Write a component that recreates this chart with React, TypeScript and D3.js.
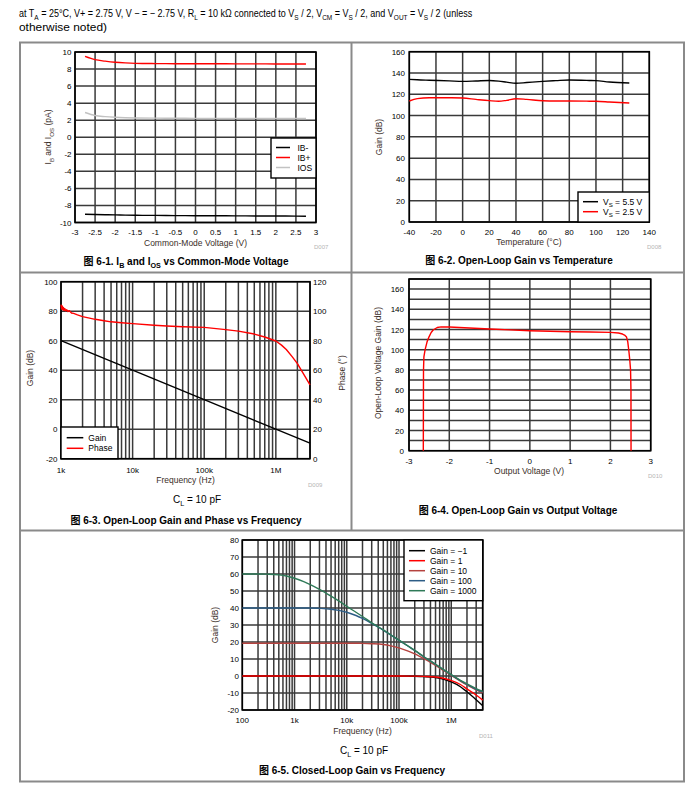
import React, { useLayoutEffect, useRef, useState } from 'react';
import * as d3 from 'd3';

const FONT = "'Liberation Sans', Arial, Helvetica, sans-serif";
const CJK = "'Noto Sans CJK SC', sans-serif";
const GRID = '#3a3a3a';
const TITLE = '#3a2e28';
const BORDER = '#8a8a8a';

// ---------- 6-1 : IB and IOS vs common-mode voltage ----------
const p1Vcm = [-2.75, -2.5, -2.25, -2, -1.75, -1.5, -1, -0.5, 0, 0.5, 1, 1.5, 2, 2.5, 2.75];
const p1IBminus = [-9.03, -9.06, -9.09, -9.11, -9.13, -9.15, -9.17, -9.19, -9.2, -9.21, -9.22, -9.23, -9.24, -9.25, -9.26];
const p1IBplus = [9.48, 9.1, 8.93, 8.8, 8.72, 8.67, 8.64, 8.63, 8.62, 8.62, 8.61, 8.61, 8.6, 8.6, 8.6];
const p1IOS = [2.9, 2.55, 2.42, 2.34, 2.29, 2.26, 2.24, 2.23, 2.22, 2.22, 2.21, 2.21, 2.2, 2.2, 2.2];
const p1XTicks = [-3, -2.5, -2, -1.5, -1, -0.5, 0, 0.5, 1, 1.5, 2, 2.5, 3];
const p1YTicks = [-10, -8, -6, -4, -2, 0, 2, 4, 6, 8, 10];

// ---------- 6-2 : open-loop gain vs temperature ----------
const p2Temp = [-40, -34, -25, -10, 0, 10, 20, 27, 33, 40, 48, 60, 70, 80, 95, 100, 110, 125];
const p2Vs55 = [134, 133.6, 133.2, 132.6, 132.1, 132.5, 133, 132.4, 131.4, 130.3, 131, 132.1, 132.8, 133.4, 133, 132.8, 131.5, 130.6];
const p2Vs25 = [113.7, 115.9, 116.8, 116.7, 116.5, 115.2, 114, 113.4, 114.3, 115.8, 115.2, 113.9, 113.7, 113.7, 113.5, 113.4, 112.8, 111.8];
const p2XTicks = [-40, -20, 0, 20, 40, 60, 80, 100, 120, 140];
const p2YTicks = [0, 20, 40, 60, 80, 100, 120, 140, 160];

// ---------- 6-3 : open-loop gain and phase vs frequency ----------
const p3GainF = [1e3, 1e4, 1e5, 1e6, 3e6];
const p3Gain = [60, 40, 20, 0, -9.5];
const p3PhaseF = [1000, 1020, 1040, 1060, 1080, 1100, 1130, 1160, 1200, 1250, 1300, 1400, 1500, 1700, 2000, 2500, 3000, 4000, 5000, 7000, 10000, 20000, 30000, 50000, 100000, 200000, 300000, 500000, 700000, 1000000, 1200000, 1400000, 1700000, 2000000, 2400000, 3000000];
const p3Phase = [104.5, 101.5, 103.5, 101, 102.5, 100.5, 101.8, 100.2, 101, 99.8, 100.4, 98.8, 98.5, 97.5, 96.3, 95.3, 94.5, 93.5, 92.8, 92.2, 91.6, 90.5, 90, 89.5, 89, 87.5, 86.5, 84.5, 82.5, 79.8, 77, 74, 69, 64.5, 58, 50];
const p3XLabelV = [1e3, 1e4, 1e5, 1e6];
const p3XLabels = ['1k', '10k', '100k', '1M'];
const p3YTicks = [-20, 0, 20, 40, 60, 80, 100];
const p3Y2Ticks = [0, 20, 40, 60, 80, 100, 120];

// ---------- 6-4 : open-loop gain vs output voltage ----------
const p4Vout = [-2.645, -2.64, -2.63, -2.6, -2.55, -2.5, -2.45, -2.4, -2.3, -2.2, -2, -1.5, -1, -0.5, 0, 0.5, 1, 1.5, 2, 2.2, 2.3, 2.35, 2.4, 2.43, 2.46, 2.48, 2.5, 2.51, 2.512];
const p4Gain = [0, 80, 93, 100, 108, 113, 117, 119.5, 122, 122.6, 122.5, 121.5, 120.5, 119.6, 118.8, 118.3, 117.8, 117.5, 117.2, 116.5, 115.5, 114.5, 112.5, 108, 98, 90, 80, 60, 0];
const p4XTicks = [-3, -2, -1, 0, 1, 2, 3];
const p4YTicks = [0, 20, 40, 60, 80, 100, 120, 140, 160];

// ---------- 6-5 : closed-loop gain vs frequency ----------
const p5F = [100, 200, 300, 500, 700, 1e3, 1.5e3, 2e3, 3e3, 5e3, 7e3, 1e4, 1.5e4, 2e4, 3e4, 5e4, 7e4, 1e5, 1.5e5, 2e5, 3e5, 5e5, 7e5, 1e6, 1.5e6, 2e6, 3e6, 4e6];
const p5GainM1 = [0, 0, 0, 0, 0, 0, 0, 0, 0, 0, 0, 0, 0, 0, 0, 0, 0, -0.05, -0.1, -0.15, -0.35, -0.9, -1.8, -3.5, -6.3, -9.3, -14, -17.5];
const p5Gain1 = [0, 0, 0, 0, 0, 0, 0, 0, 0, 0, 0, 0, 0, 0, 0, 0, 0, 0, -0.05, -0.1, -0.25, -0.6, -1.3, -2.7, -5, -7.6, -11.2, -14.2];
const p5Gain10 = [19.3, 19.3, 19.3, 19.3, 19.3, 19.3, 19.3, 19.3, 19.3, 19.3, 19.3, 19.3, 19.25, 19.2, 19.0, 18.5, 17.7, 16.5, 14.6, 13, 10.2, 6.2, 3.4, 0.4, -3, -5.3, -8.2, -10];
const p5Gain100 = [40, 40, 40, 40, 40, 40, 40, 40, 39.8, 39.3, 38.6, 37.5, 35.6, 33.9, 31, 27, 24, 21, 17.5, 15, 11.2, 6.8, 3.8, 0.7, -2.8, -5, -7.8, -9.4];
const p5Gain1000 = [60, 60, 59.9, 59.5, 58.8, 57.5, 55.5, 53.8, 51, 47, 44.2, 41, 37.5, 35, 31.3, 27.1, 24.1, 21.1, 17.6, 15.1, 11.3, 6.9, 3.9, 0.8, -2.6, -4.7, -7.4, -9];
const p5XLabelV = [100, 1e3, 1e4, 1e5, 1e6];
const p5XLabels = ['100', '1k', '10k', '100k', '1M'];
const p5YTicks = [-20, -10, 0, 10, 20, 30, 40, 50, 60, 70, 80];

const P5COLORS = ['#000000', '#ff0000', '#b5433f', '#2d5d86', '#2f7a58'];
const P5NAMES = ['Gain = \u22121', 'Gain = 1', 'Gain = 10', 'Gain = 100', 'Gain = 1000'];

type Part = string | [string];
function Rich({ parts, sub = 0.72 }: { parts: Part[]; sub?: number }) {
  let off = 0;
  const out: React.ReactNode[] = [];
  parts.forEach((p, i) => {
    if (typeof p === 'string') {
      out.push(<tspan key={i} dy={-off}>{p}</tspan>);
      off = 0;
    } else {
      const d = 2.6;
      out.push(<tspan key={i} dy={d - off} fontSize={`${sub}em`}>{p[0]}</tspan>);
      off = d;
    }
  });
  if (off) out.push(<tspan key="z" dy={-off}>{'\u200b'}</tspan>);
  return <>{out}</>;
}

// text scaled horizontally to fill a target width (header lines)
function FitText({ x, y, width, fontSize, children }: { x: number; y: number; width: number; fontSize: number; children: React.ReactNode }) {
  const ref = useRef<SVGTextElement>(null);
  const [sx, setSx] = useState(1);
  useLayoutEffect(() => {
    if (ref.current) {
      const w = ref.current.getBBox().width;
      if (w > 0) setSx(width / w);
    }
  }, [width]);
  return (
    <g transform={`translate(${x},${y}) scale(${sx},1)`}>
      <text ref={ref} x={0} y={0} fontSize={fontSize} fill="#000">{children}</text>
    </g>
  );
}

type Scale = (v: number) => number;

function Grid({ x, y, xv, yv, x0, x1, y0, y1 }: { x: Scale; y: Scale; xv: number[]; yv: number[]; x0: number; x1: number; y0: number; y1: number }) {
  return (
    <g>
      {xv.map((v, i) => (
        <line key={'x' + i} x1={x(v)} x2={x(v)} y1={y0} y2={y1} stroke={GRID} strokeWidth={1.5} />
      ))}
      {yv.map((v, i) => (
        <line key={'y' + i} x1={x0} x2={x1} y1={y(v)} y2={y(v)} stroke={GRID} strokeWidth={1.5} />
      ))}
      <rect x={x0} y={y1} width={x1 - x0} height={y0 - y1} fill="none" stroke="#000" strokeWidth={1.6} />
    </g>
  );
}

function Series({ xs, ys, x, y, color, w = 1.4 }: { xs: number[]; ys: number[]; x: Scale; y: Scale; color: string; w?: number }) {
  const pts = xs.map((v, i) => [v, ys[i]] as [number, number]);
  const line = d3.line<[number, number]>().x((d) => x(d[0])).y((d) => y(d[1])).curve(d3.curveMonotoneX);
  return <path d={line(pts) || ''} fill="none" stroke={color} strokeWidth={w} strokeLinejoin="round" />;
}

function SeriesLin({ xs, ys, x, y, color, w = 1.4 }: { xs: number[]; ys: number[]; x: Scale; y: Scale; color: string; w?: number }) {
  const pts = xs.map((v, i) => [v, ys[i]] as [number, number]);
  const line = d3.line<[number, number]>().x((d) => x(d[0])).y((d) => y(d[1]));
  return <path d={line(pts) || ''} fill="none" stroke={color} strokeWidth={w} strokeLinejoin="round" />;
}

function XLabels({ x, vals, labels, y }: { x: Scale; vals: number[]; labels: string[]; y: number }) {
  return (
    <g fontSize={8} fill="#000" textAnchor="middle">
      {vals.map((v, i) => (
        <text key={i} x={x(v)} y={y}>{labels[i]}</text>
      ))}
    </g>
  );
}

function YLabels({ y, vals, x, anchor = 'end' }: { y: Scale; vals: number[]; x: number; anchor?: string }) {
  return (
    <g fontSize={8} fill="#000" textAnchor={anchor as any}>
      {vals.map((v, i) => (
        <text key={i} x={x} y={y(v) + 3}>{String(v)}</text>
      ))}
    </g>
  );
}

function Legend({ x0, y0, w, h, rows, lx0, lx1, tx, ty, dy }: { x0: number; y0: number; w: number; h: number; rows: { c: string; t: React.ReactNode }[]; lx0: number; lx1: number; tx: number; ty: number; dy: number }) {
  return (
    <g>
      <rect x={x0} y={y0} width={w} height={h} fill="#fff" stroke="#000" strokeWidth={1.4} />
      {rows.map((r, i) => (
        <g key={i}>
          <line x1={lx0} x2={lx1} y1={ty + i * dy} y2={ty + i * dy} stroke={r.c} strokeWidth={1.5} />
          <text x={tx} y={ty + i * dy + 3} fontSize={8.5} fill="#000">{r.t}</text>
        </g>
      ))}
    </g>
  );
}

function Caption({ x, y, parts }: { x: number; y: number; parts: Part[] }) {
  return (
    <text x={x} y={y} textAnchor="middle" fontSize={10} fontWeight="bold" fill="#000">
      <tspan fontFamily={CJK}>图</tspan>
      <tspan> </tspan>
      <Rich parts={parts} />
    </text>
  );
}

function DLabel({ x, y, t }: { x: number; y: number; t: string }) {
  return <text x={x} y={y} fontSize={6} fill="#b5b5b5">{t}</text>;
}

function Panel1() {
  const x0 = 75, x1 = 316, y0 = 222.5, y1 = 52;
  const x = d3.scaleLinear().domain([-3, 3]).range([x0, x1]);
  const y = d3.scaleLinear().domain([-10, 10]).range([y0, y1]);
  return (
    <g>
      <Grid x={x} y={y} xv={p1XTicks} yv={p1YTicks} x0={x0} x1={x1} y0={y0} y1={y1} />
      <Series xs={p1Vcm} ys={p1IOS} x={x} y={y} color="#c2c2c2" />
      <Series xs={p1Vcm} ys={p1IBminus} x={x} y={y} color="#000" />
      <Series xs={p1Vcm} ys={p1IBplus} x={x} y={y} color="#ff0000" />
      <XLabels x={x} vals={p1XTicks} labels={p1XTicks.map(String)} y={235} />
      <YLabels y={y} vals={p1YTicks} x={71.5} />
      <text x={195.5} y={246} fontSize={8.5} textAnchor="middle" fill={TITLE}>Common-Mode Voltage (V)</text>
      <text transform="translate(51,137) rotate(-90)" fontSize={8.5} textAnchor="middle" fill={TITLE}>
        <Rich parts={['I', ['B'], ' and I', ['OS'], ' (pA)']} />
      </text>
      <Legend x0={271} y0={138} w={45} h={40} lx0={276} lx1={290} tx={297.5} ty={147.5} dy={10}
        rows={[{ c: '#000', t: 'IB-' }, { c: '#ff0000', t: 'IB+' }, { c: '#c2c2c2', t: 'IOS' }]} />
      <DLabel x={314} y={249} t="D007" />
      <Caption x={186} y={265} parts={['6-1. I', ['B'], ' and I', ['OS'], ' vs Common-Mode Voltage']} />
    </g>
  );
}

function Panel2() {
  const x0 = 409.3, x1 = 649.3, y0 = 222, y1 = 51.7;
  const x = d3.scaleLinear().domain([-40, 140]).range([x0, x1]);
  const y = d3.scaleLinear().domain([0, 160]).range([y0, y1]);
  return (
    <g>
      <Grid x={x} y={y} xv={p2XTicks} yv={p2YTicks} x0={x0} x1={x1} y0={y0} y1={y1} />
      <Series xs={p2Temp} ys={p2Vs55} x={x} y={y} color="#000" />
      <Series xs={p2Temp} ys={p2Vs25} x={x} y={y} color="#ff0000" />
      <XLabels x={x} vals={p2XTicks} labels={p2XTicks.map(String)} y={235} />
      <YLabels y={y} vals={p2YTicks} x={405} />
      <text x={529} y={245} fontSize={8.5} textAnchor="middle" fill={TITLE}>Temperature (°C)</text>
      <text transform="translate(382,137) rotate(-90)" fontSize={8.5} textAnchor="middle" fill={TITLE}>Gain (dB)</text>
      <Legend x0={578} y0={192} w={71.3} h={30} lx0={583} lx1={598} tx={603} ty={201.7} dy={10}
        rows={[
          { c: '#000', t: <Rich parts={['V', ['S'], ' = 5.5 V']} /> },
          { c: '#ff0000', t: <Rich parts={['V', ['S'], ' = 2.5 V']} /> },
        ]} />
      <DLabel x={647} y={249} t="D008" />
      <Caption x={519} y={264} parts={['6-2. Open-Loop Gain vs Temperature']} />
    </g>
  );
}

function Panel3() {
  const x0 = 61, x1 = 310, y0 = 458.7, y1 = 281.7;
  const x = d3.scaleLog().domain([1e3, 3e6]).range([x0, x1]);
  const y = d3.scaleLinear().domain([-20, 100]).range([y0, y1]);
  const y2 = d3.scaleLinear().domain([0, 120]).range([y0, y1]);
  return (
    <g>
      <Grid x={x} y={y} xv={x.ticks()} yv={p3YTicks} x0={x0} x1={x1} y0={y0} y1={y1} />
      <SeriesLin xs={p3GainF} ys={p3Gain} x={x} y={y} color="#000" />
      <SeriesLin xs={p3PhaseF} ys={p3Phase} x={x} y={y2} color="#ff0000" />
      <XLabels x={x} vals={p3XLabelV} labels={p3XLabels} y={473} />
      <YLabels y={y} vals={p3YTicks} x={57.5} />
      <YLabels y={y2} vals={p3Y2Ticks} x={313} anchor="start" />
      <text x={185.5} y={483} fontSize={8.5} textAnchor="middle" fill={TITLE}>Frequency (Hz)</text>
      <text transform="translate(33,368) rotate(-90)" fontSize={8.5} textAnchor="middle" fill={TITLE}>Gain (dB)</text>
      <text transform="translate(345,373) rotate(-90)" fontSize={8.5} textAnchor="middle" fill={TITLE}>Phase (°)</text>
      <Legend x0={61} y0={427} w={57} h={31.7} lx0={66.7} lx1={83.3} tx={88.3} ty={437.7} dy={10.6}
        rows={[{ c: '#000', t: 'Gain' }, { c: '#ff0000', t: 'Phase' }]} />
      <DLabel x={308} y={487} t="D009" />
      <text x={197} y={503} fontSize={10} textAnchor="middle" fill="#000">
        <Rich parts={['C', ['L'], ' = 10 pF']} />
      </text>
      <Caption x={186} y={524} parts={['6-3. Open-Loop Gain and Phase vs Frequency']} />
    </g>
  );
}

function Panel4() {
  const x0 = 409, x1 = 650.7, y0 = 450.7, y1 = 279;
  const x = d3.scaleLinear().domain([-3, 3]).range([x0, x1]);
  const y = d3.scaleLinear().domain([0, 170]).range([y0, y1]);
  const yGrid = d3.range(0, 171, 10);
  return (
    <g>
      <Grid x={x} y={y} xv={p4XTicks} yv={yGrid} x0={x0} x1={x1} y0={y0} y1={y1} />
      <SeriesLin xs={p4Vout} ys={p4Gain} x={x} y={y} color="#ff0000" />
      <XLabels x={x} vals={p4XTicks} labels={p4XTicks.map(String)} y={464} />
      <YLabels y={y} vals={p4YTicks} x={404} />
      <text x={529} y={474} fontSize={8.5} textAnchor="middle" fill={TITLE}>Output Voltage (V)</text>
      <text transform="translate(381,363) rotate(-90)" fontSize={8.5} textAnchor="middle" fill={TITLE}>Open-Loop Voltage Gain (dB)</text>
      <DLabel x={648} y={478} t="D010" />
      <Caption x={518} y={514} parts={['6-4. Open-Loop Gain vs Output Voltage']} />
    </g>
  );
}

function Panel5() {
  const x0 = 242.3, x1 = 482.7, y0 = 710, y1 = 540;
  const x = d3.scaleLog().domain([100, 4e6]).range([x0, x1]);
  const y = d3.scaleLinear().domain([-20, 80]).range([y0, y1]);
  const series = [p5GainM1, p5Gain1, p5Gain10, p5Gain100, p5Gain1000];
  return (
    <g>
      <Grid x={x} y={y} xv={x.ticks()} yv={p5YTicks} x0={x0} x1={x1} y0={y0} y1={y1} />
      {series.map((s, i) => (
        <Series key={i} xs={p5F} ys={s} x={x} y={y} color={P5COLORS[i]} />
      ))}
      <XLabels x={x} vals={p5XLabelV} labels={p5XLabels} y={723} />
      <YLabels y={y} vals={p5YTicks} x={239} />
      <text x={362.5} y={734} fontSize={8.5} textAnchor="middle" fill={TITLE}>Frequency (Hz)</text>
      <text transform="translate(218,625) rotate(-90)" fontSize={8.5} textAnchor="middle" fill={TITLE}>Gain (dB)</text>
      <Legend x0={404} y0={540} w={78.7} h={60.7} lx0={409} lx1={425} tx={430} ty={550.7} dy={10}
        rows={P5NAMES.map((t, i) => ({ c: P5COLORS[i], t }))} />
      <DLabel x={479} y={738} t="D011" />
      <text x={364} y={754} fontSize={10} textAnchor="middle" fill="#000">
        <Rich parts={['C', ['L'], ' = 10 pF']} />
      </text>
      <Caption x={352} y={774} parts={['6-5. Closed-Loop Gain vs Frequency']} />
    </g>
  );
}

export default function App() {
  return (
    <svg width={698} height={796} viewBox="0 0 698 796" style={{ position: 'absolute', left: 0, top: 0, background: '#fff' }} fontFamily={FONT}>
      <rect x={0} y={0} width={698} height={796} fill="#fff" />
      <FitText x={19} y={17} width={454} fontSize={10.5}>
        <Rich parts={['at T', ['A'], ' = 25°C, V+ = 2.75 V, V \u2212 = \u2212 2.75 V, R', ['L'], ' = 10 k\u03a9 connected to V', ['S'], ' / 2, V', ['CM'], ' = V', ['S'], ' / 2, and V', ['OUT'], ' = V', ['S'], ' / 2 (unless']} />
      </FitText>
      <FitText x={19} y={31} width={88} fontSize={10.5}>otherwise noted)</FitText>
      {/* table borders */}
      <g stroke={BORDER} strokeWidth={2}>
        <line x1={19} x2={685} y1={42.5} y2={42.5} />
        <line x1={20} x2={20} y1={42} y2={782} />
        <line x1={684} x2={684} y1={42} y2={782} />
        <line x1={351.5} x2={351.5} y1={42} y2={531} />
        <line x1={19} x2={685} y1={272.5} y2={272.5} />
        <line x1={19} x2={685} y1={530.5} y2={530.5} />
        <line x1={19} x2={685} y1={781.5} y2={781.5} />
      </g>
      <Panel1 />
      <Panel2 />
      <Panel3 />
      <Panel4 />
      <Panel5 />
    </svg>
  );
}
